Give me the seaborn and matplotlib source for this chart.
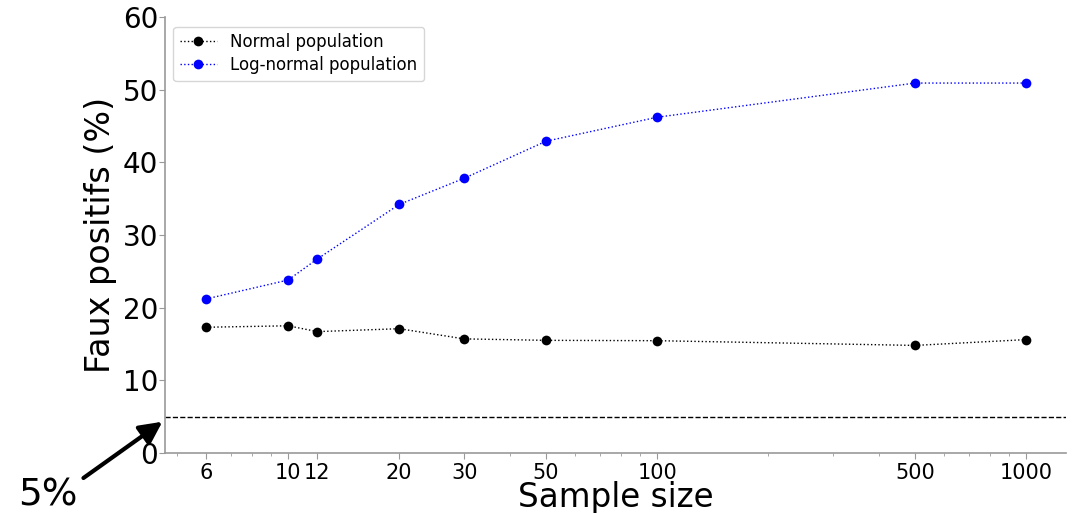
import matplotlib
matplotlib.use("Agg")
import matplotlib.pyplot as plt
import seaborn as sns
import pandas as pd
from matplotlib.ticker import FixedLocator, NullFormatter, FixedFormatter

sample_sizes = [6, 10, 12, 20, 30, 50, 100, 500, 1000]
normal_fp = [17.3, 17.5, 16.7, 17.1, 15.7, 15.5, 15.45, 14.8, 15.6]
lognormal_fp = [21.2, 23.8, 26.7, 34.2, 37.8, 42.9, 46.2, 50.9, 50.9]
threshold = 5
y_ticks = [0, 10, 20, 30, 40, 50, 60]

sns.set_style("white")
plt.rcParams['font.family'] = ['DejaVu Sans']
plt.rcParams['text.color'] = 'black'
plt.rcParams['axes.labelcolor'] = 'black'
plt.rcParams['xtick.color'] = 'black'
plt.rcParams['ytick.color'] = 'black'

fig = plt.figure(figsize=(10.79, 5.13), dpi=100)
ax = fig.add_axes([0.153, 0.117, 0.835, 0.850])

df_n = pd.DataFrame({"n": sample_sizes, "fp": normal_fp})
df_l = pd.DataFrame({"n": sample_sizes, "fp": lognormal_fp})
sns.lineplot(data=df_n, x="n", y="fp", ax=ax, color="black", marker="o",
             linestyle=":", linewidth=1, markersize=7, markeredgewidth=0,
             label="Normal population")
sns.lineplot(data=df_l, x="n", y="fp", ax=ax, color="blue", marker="o",
             linestyle=":", linewidth=1, markersize=7, markeredgewidth=0,
             label="Log-normal population")
ax.axhline(threshold, color="black", linestyle="--", linewidth=1)

ax.set_xscale("log")
ax.set_xlim(4.64, 1283)
ax.set_ylim(0, 60)
ax.xaxis.set_major_locator(FixedLocator(sample_sizes))
ax.xaxis.set_major_formatter(FixedFormatter([str(s) for s in sample_sizes]))
ax.xaxis.set_minor_formatter(NullFormatter())
ax.set_yticks(y_ticks)

ax.tick_params(axis="x", which="major", labelsize=15, length=4, color="#999999", bottom=True, pad=3)
ax.tick_params(axis="x", which="minor", length=2, color="#999999", bottom=True)
ax.tick_params(axis="y", labelsize=20, length=4, color="#999999", left=True, pad=1)

for s in ["top", "right"]:
    ax.spines[s].set_visible(False)
for s in ["left", "bottom"]:
    ax.spines[s].set_color("#999999")
    ax.spines[s].set_linewidth(1.2)

ax.set_xlabel("Sample size", fontsize=23.5, labelpad=-1)
ax.set_ylabel("Faux positifs (%)", fontsize=24, labelpad=4)

leg = ax.legend(loc="upper left", fontsize=12, frameon=True, bbox_to_anchor=(0.0, 0.997),
                handlelength=2.2, labelspacing=0.3)
for t in leg.get_texts():
    t.set_color("black")

ax.annotate("5%", xy=(-0.003, 4.3), xycoords=("axes fraction", "data"),
            xytext=(18, 7), textcoords="figure pixels", fontsize=27,
            ha="left", va="baseline", annotation_clip=False,
            arrowprops=dict(arrowstyle="-|>,head_length=0.9,head_width=0.45",
                            mutation_scale=15,
                            color="black", linewidth=3, shrinkA=0, shrinkB=0,
                            relpos=(1.1, 1.0)))

fig.savefig("out.png", dpi=100)
